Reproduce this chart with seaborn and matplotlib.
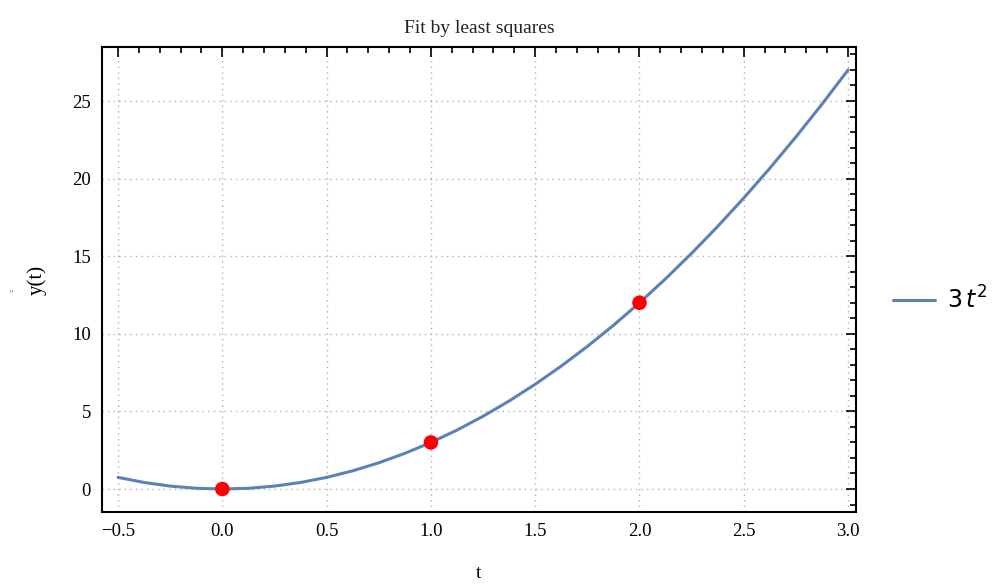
import numpy as np
import pandas as pd
import matplotlib
matplotlib.use("Agg")
import matplotlib.pyplot as plt
import seaborn as sns
from matplotlib.ticker import MultipleLocator

# Curve samples (legend: 3 t^2)
curve_t = [-0.5, -0.375, -0.25, -0.125, 0.0, 0.125, 0.25, 0.375, 0.5, 0.625,
           0.75, 0.875, 1.0, 1.125, 1.25, 1.375, 1.5, 1.625, 1.75, 1.875,
           2.0, 2.125, 2.25, 2.375, 2.5, 2.625, 2.75, 2.875, 3.0]
curve_y = [0.75, 0.421875, 0.1875, 0.046875, 0.0, 0.046875, 0.1875, 0.421875, 0.75, 1.171875,
           1.6875, 2.296875, 3.0, 3.796875, 4.6875, 5.671875, 6.75, 7.921875, 9.1875, 10.546875,
           12.0, 13.546875, 15.1875, 16.921875, 18.75, 20.671875, 22.6875, 24.796875, 27.0]
# Data points
pts_t = [0, 1, 2]
pts_y = [0, 3, 12]
x_ticks = [-0.5, 0.0, 0.5, 1.0, 1.5, 2.0, 2.5, 3.0]
y_ticks = [0, 5, 10, 15, 20, 25]
title = "Fit by least squares"
legend_label = r"$3\,t^{2}$"

sns.set_theme(style="white")
plt.rcParams['font.family'] = ['Liberation Serif', 'DejaVu Serif']
plt.rcParams['mathtext.fontset'] = 'dejavusans'
plt.rcParams['text.color'] = 'black'
plt.rcParams['axes.labelcolor'] = 'black'

fig = plt.figure(figsize=(9.95, 5.86), dpi=100)
ax = fig.add_axes([0.1025, 0.1263, 0.7578, 0.7935])

curve = pd.DataFrame({"t": curve_t, "y": curve_y})
pts = pd.DataFrame({"t": pts_t, "y": pts_y})

sns.lineplot(data=curve, x="t", y="y", ax=ax, color="#5E81B5", linewidth=2.2,
             label=legend_label, sort=True, zorder=3)
sns.scatterplot(data=pts, x="t", y="y", ax=ax, color="#FF0000", s=110,
                edgecolor="none", zorder=4, legend=False)

ax.set_xlim(-0.577, 3.038)
ax.set_ylim(-1.48, 28.48)
ax.set_xticks(x_ticks)
ax.set_xticklabels([f"{v:.1f}".replace("-", "\u2212") for v in x_ticks])
ax.set_yticks(y_ticks)
ax.set_yticklabels([str(v) for v in y_ticks])
ax.xaxis.set_minor_locator(MultipleLocator(0.1))
ax.yaxis.set_minor_locator(MultipleLocator(1))
ax.tick_params(which="both", direction="in", top=True, right=True,
               labelsize=13.5, colors="black", width=1.2)
ax.tick_params(which="major", length=7, pad=8)
ax.tick_params(which="minor", length=4)
for sp in ax.spines.values():
    sp.set_visible(True)
    sp.set_color("black")
    sp.set_linewidth(1.5)

ax.grid(True, which="major", color="#b0b0b0", linestyle=(0, (1, 3)), linewidth=1.0)
ax.set_axisbelow(True)

ax.set_title(title, fontsize=14, pad=10, color="#222222")
ax.set_xlabel("t", fontsize=14, labelpad=18)
ax.set_ylabel("y(t)", fontsize=15, labelpad=18)

leg = ax.get_legend()
if leg is not None:
    leg.remove()
handles, labels = ax.get_legend_handles_labels()
fig.legend(handles, labels, loc="center left", bbox_to_anchor=(0.876, 0.488),
           frameon=False, handlelength=1.8, handletextpad=0.5,
           prop={"family": "DejaVu Sans", "size": 17})

fig.text(0.008, 0.497, '"', color="#7f95b8", fontsize=9, va="center")

fig.savefig("out.png", dpi=100)
